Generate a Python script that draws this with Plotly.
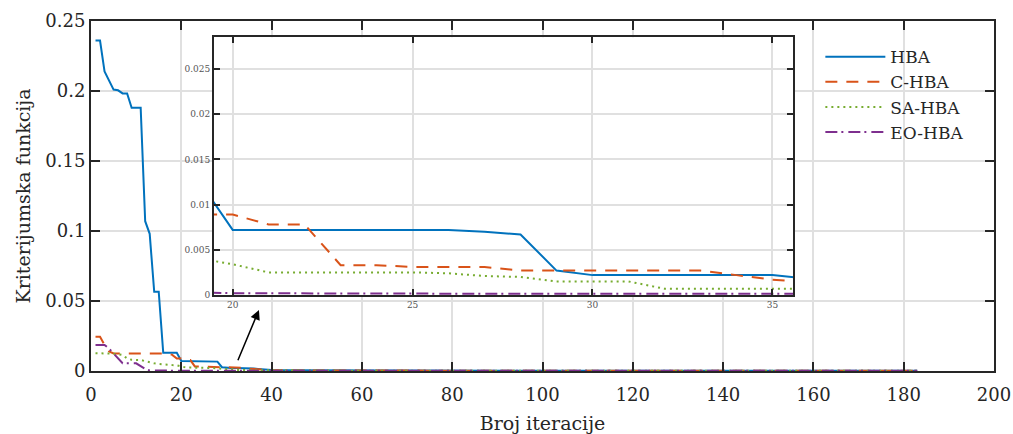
import plotly.graph_objects as go

iterations = [1, 2, 3, 4, 5, 6, 7, 8, 9, 10,
              11, 12, 13, 14, 15, 16, 17, 18, 19, 20,
              21, 22, 23, 24, 25, 26, 27, 28, 29, 30,
              31, 32, 33, 34, 35, 36, 37, 38, 39, 40,
              45, 60, 100, 183]

hba = [0.236, 0.236, 0.214, 0.207, 0.201, 0.2005, 0.1983, 0.1983, 0.188, 0.188,
       0.188, 0.107, 0.098, 0.0566, 0.0566, 0.013, 0.013, 0.013, 0.013, 0.0072,
       0.0072, 0.0072, 0.0072, 0.0072, 0.0072, 0.0072, 0.0070, 0.0067, 0.0027, 0.0022,
       0.0022, 0.0022, 0.0022, 0.0022, 0.0022, 0.0018, 0.0015, 0.0012, 0.0010, 0.0008,
       0.0005, 0.0003, 0.0002, 0.0001]

c_hba = [0.0245, 0.0245, 0.0186, 0.0140, 0.0125, 0.0125, 0.0125, 0.0125, 0.0125, 0.0125,
         0.0125, 0.0125, 0.0125, 0.0125, 0.0125, 0.0125, 0.0125, 0.0115, 0.0089, 0.0089,
         0.0078, 0.0078, 0.0033, 0.0033, 0.0031, 0.0031, 0.0031, 0.0027, 0.0027, 0.0027,
         0.0027, 0.0027, 0.0027, 0.0022, 0.0017, 0.0014, 0.0012, 0.0010, 0.0008, 0.0006,
         0.0004, 0.0002, 0.00015, 0.0001]

sa_hba = [0.0127, 0.0127, 0.0127, 0.0127, 0.0124, 0.0120, 0.0114, 0.0090, 0.0080, 0.0079,
          0.0079, 0.0070, 0.0060, 0.0055, 0.0050, 0.0046, 0.0043, 0.0042, 0.0041, 0.0034,
          0.0025, 0.0025, 0.0025, 0.0025, 0.0025, 0.0024, 0.0021, 0.0020, 0.0015, 0.0015,
          0.0015, 0.0007, 0.0007, 0.0007, 0.0007, 0.0007, 0.0006, 0.0005, 0.0005, 0.0005,
          0.0003, 0.0002, 0.00015, 0.0001]

eo_hba = [0.0186, 0.0186, 0.0186, 0.0160, 0.0125, 0.0085, 0.0055, 0.0055, 0.0055, 0.0055,
          0.0035, 0.0015, 0.0004, 0.0003, 0.0003, 0.0003, 0.0003, 0.0003, 0.0003, 0.0002,
          0.00018, 0.00016, 0.00015, 0.00015, 0.00015, 0.00015, 0.00015, 0.00015, 0.0001, 0.0001,
          0.0001, 0.0001, 0.0001, 0.0001, 0.0001, 0.0001, 0.0001, 0.0001, 0.0001, 0.0001,
          0.0001, 0.0001, 0.0001, 0.0001]

series_names = ["HBA", "C-HBA", "SA-HBA", "EO-HBA"]
main_xticks = [0, 20, 40, 60, 80, 100, 120, 140, 160, 180, 200]
inset_xticks = [20, 25, 30, 35]

colors = ["#0072BD", "#D95319", "#77AC30", "#7E2F8E"]
dashes = ["solid", "12px,9px", "2px,4px", "12px,4px,2px,5px"]
FONT = "DejaVu Serif"
INK = "#262626"
GRID = "#e0e0e0"

fig = go.Figure()
all_series = [hba, c_hba, sa_hba, eo_hba]
for name, vals, col, dsh in zip(series_names, all_series, colors, dashes):
    fig.add_trace(go.Scatter(x=iterations, y=vals, mode="lines", name=name,
                             line=dict(color=col, width=2, dash=dsh),
                             xaxis="x", yaxis="y"))
for name, vals, col, dsh in zip(series_names, all_series, colors, dashes):
    fig.add_trace(go.Scatter(x=iterations, y=vals, mode="lines", name=name,
                             line=dict(color=col, width=2, dash=dsh),
                             xaxis="x2", yaxis="y2", showlegend=False))

axis_common = dict(showline=True, linecolor=INK, linewidth=2, mirror="ticks",
                   ticks="inside", tickcolor=INK, tickwidth=2, automargin=False,
                   showgrid=True, gridcolor=GRID, gridwidth=1.5, zeroline=False)

fig.update_layout(
    width=1013, height=434,
    margin=dict(l=91, r=19, t=21, b=63, autoexpand=False),
    paper_bgcolor="white", plot_bgcolor="white",
    font=dict(family=FONT, color=INK),
    xaxis=dict(domain=[0, 1], range=[0, 200], tickvals=main_xticks, ticklen=9,
               ticklabelstandoff=6,
               tickfont=dict(size=18, family=FONT, color=INK),
               title=dict(text="Broj iteracije", font=dict(size=19, family=FONT, color=INK), standoff=14),
               **axis_common),
    yaxis=dict(domain=[0, 1], range=[0, 0.25], dtick=0.05, ticklen=9,
               tickfont=dict(size=18, family=FONT, color=INK),
               title=dict(text="Kriterijumska funkcija", font=dict(size=19, family=FONT, color=INK), standoff=10),
               **axis_common),
    xaxis2=dict(domain=[0.1362, 0.7777], range=[19.48, 35.58], tickvals=inset_xticks,
                anchor="y2", ticklen=6,
                tickfont=dict(size=9, family=FONT, color="#555555"),
                **axis_common),
    yaxis2=dict(domain=[0.2171, 0.9534], range=[0, 0.0285], dtick=0.005,
                anchor="x2", ticklen=6,
                tickfont=dict(size=9, family=FONT, color="#555555"),
                **axis_common),
    legend=dict(x=0.8077, y=0.948, xanchor="left", yanchor="top",
                bgcolor="rgba(0,0,0,0)", borderwidth=0,
                font=dict(size=17, family=FONT, color=INK),
                itemwidth=60, tracegroupgap=0),
    showlegend=True,
)

fig.add_annotation(x=37.2, y=0.0436, ax=32.4, ay=0.0066,
                   xref="x", yref="y", axref="x", ayref="y",
                   text="", showarrow=True, arrowhead=2, arrowsize=1.3,
                   arrowwidth=1.5, arrowcolor="black")

fig.write_html("out.html")
